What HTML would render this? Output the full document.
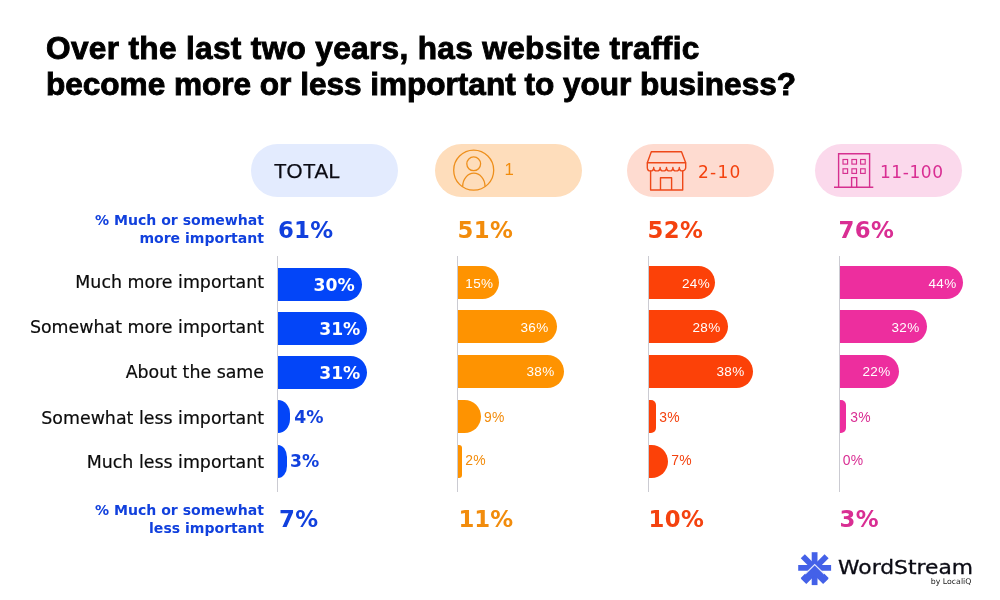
<!DOCTYPE html>
<html lang="en">
<head>
<meta charset="utf-8">
<title>Website traffic importance</title>
<style>
*{margin:0;padding:0;box-sizing:border-box}
html,body{width:1000px;height:600px;background:#fff;overflow:hidden}
body{position:relative;font-family:"DejaVu Sans","Liberation Sans",sans-serif;color:#0b0b0b}
.abs{position:absolute;white-space:nowrap;line-height:1}
.title{left:46px;font-family:"Liberation Sans",sans-serif;font-weight:bold;font-size:31.6px;color:#000;-webkit-text-stroke:0.9px #000;letter-spacing:0}
.pill{position:absolute;top:144px;height:53px;width:147px;border-radius:27px}
.lbl{right:736px;font-size:17.4px;-webkit-text-stroke:0.2px #0b0b0b;text-align:right;color:#0b0b0b}
.blbl{right:736px;font-size:14.05px;font-weight:bold;text-align:right;color:#1140dd;line-height:18px}
.big{font-weight:bold;font-size:22.8px;letter-spacing:0.35px}
.axis{position:absolute;top:256px;height:236px;width:1px;background:#cbcbd2}
.bar{position:absolute;height:33px;border-radius:0 16.5px 16.5px 0}
.v{font-family:"Liberation Sans",sans-serif;font-size:13.5px;letter-spacing:0.35px}
.vo{font-size:13.9px}
.vb{font-weight:bold;font-size:17.2px}
.c1{color:#1140dd}.c2{color:#f28c0c}.c3{color:#f4420f}.c4{color:#d92e93}
.b1{background:#0345f8}.b2{background:#fe9301}.b3{background:#fc4108}.b4{background:#ed2e9e}
.w{color:#fff}
</style>
</head>
<body>
<div class="abs title" style="top:33px;letter-spacing:0.33px">Over the last two years, has website traffic</div>
<div class="abs title" style="top:69px;letter-spacing:-0.03px">become more or less important to your business?</div>

<div class="pill" style="left:251px;background:#e3ebfe"></div>
<div class="pill" style="left:434.5px;background:#feddbb"></div>
<div class="pill" style="left:627px;background:#fedbd0"></div>
<div class="pill" style="left:814.5px;background:#fbd9ec"></div>
<div class="abs" style="left:274px;top:160.7px;font-family:'Liberation Sans',sans-serif;font-size:20.6px;letter-spacing:0.4px;color:#0b0b14;-webkit-text-stroke:0.25px #0b0b14">TOTAL</div>
<div class="abs c2" style="left:504.6px;top:162.3px;font-family:'Liberation Sans',sans-serif;font-size:16.8px">1</div>
<div class="abs c3" style="left:698px;top:163.5px;font-size:17px;letter-spacing:1.25px">2-10</div>
<div class="abs c4" style="left:880px;top:163.6px;font-size:17px;letter-spacing:0.55px">11-100</div>

<div class="abs blbl" style="top:210.7px">% Much or somewhat<br>more important</div>
<div class="abs blbl" style="top:501px">% Much or somewhat<br>less important</div>

<div class="abs lbl" style="top:274.4px">Much more important</div>
<div class="abs lbl" style="top:319.4px">Somewhat more important</div>
<div class="abs lbl" style="top:364.3px">About the same</div>
<div class="abs lbl" style="top:409.5px">Somewhat less important</div>
<div class="abs lbl" style="top:454.4px">Much less important</div>

<div class="abs big c1" style="left:277.9px;top:218.6px">61%</div>
<div class="abs big c2" style="left:457.5px;top:218.6px">51%</div>
<div class="abs big c3" style="left:647.5px;top:218.6px">52%</div>
<div class="abs big c4" style="left:838.5px;top:218.6px">76%</div>

<div class="abs big c1" style="left:279px;top:508px">7%</div>
<div class="abs big c2" style="left:458.5px;top:508px;letter-spacing:0">11%</div>
<div class="abs big c3" style="left:648.5px;top:508px">10%</div>
<div class="abs big c4" style="left:839.5px;top:508px">3%</div>

<div class="axis" style="left:277px"></div>
<div class="axis" style="left:457px"></div>
<div class="axis" style="left:648px"></div>
<div class="axis" style="left:839px"></div>

<!-- blue -->
<div class="bar b1" style="left:278px;top:267.5px;width:84px"></div>
<div class="bar b1" style="left:278px;top:311.7px;width:89.2px"></div>
<div class="bar b1" style="left:278px;top:356px;width:89.2px"></div>
<div class="bar b1" style="left:278px;top:400.4px;width:12.3px;border-radius:0 12px 12px 0/0 14px 14px 0"></div>
<div class="bar b1" style="left:278px;top:444.6px;width:9px;border-radius:0 9px 9px 0/0 12px 12px 0"></div>
<div class="abs vb w" style="left:313.6px;top:276.6px">30%</div>
<div class="abs vb w" style="left:319.2px;top:321px">31%</div>
<div class="abs vb w" style="left:319.2px;top:365.3px">31%</div>
<div class="abs vb c1" style="left:294.2px;top:409.3px">4%</div>
<div class="abs vb c1" style="left:290px;top:453.3px">3%</div>

<!-- orange -->
<div class="bar b2" style="left:458px;top:266.2px;width:40.7px"></div>
<div class="bar b2" style="left:458px;top:310.2px;width:98.7px"></div>
<div class="bar b2" style="left:458px;top:354.7px;width:106px"></div>
<div class="bar b2" style="left:458px;top:399.5px;width:22.8px"></div>
<div class="bar b2" style="left:458px;top:444.5px;width:4px;border-radius:0 3px 3px 0"></div>
<div class="abs v w" style="left:465.3px;top:276.5px">15%</div>
<div class="abs v w" style="left:520.5px;top:321px">36%</div>
<div class="abs v w" style="left:526.5px;top:365px">38%</div>
<div class="abs v vo c2" style="left:484px;top:410.7px">9%</div>
<div class="abs v vo c2" style="left:465.3px;top:454.3px">2%</div>

<!-- red -->
<div class="bar b3" style="left:649px;top:266.2px;width:66.3px"></div>
<div class="bar b3" style="left:649px;top:310.2px;width:78.8px"></div>
<div class="bar b3" style="left:649px;top:354.7px;width:103.7px"></div>
<div class="bar b3" style="left:649px;top:399.5px;width:7px;border-radius:0 5px 5px 0"></div>
<div class="bar b3" style="left:649px;top:444.5px;width:19px"></div>
<div class="abs v w" style="left:682px;top:276.5px">24%</div>
<div class="abs v w" style="left:692.5px;top:321px">28%</div>
<div class="abs v w" style="left:716.5px;top:365px">38%</div>
<div class="abs v vo c3" style="left:659.3px;top:410.7px">3%</div>
<div class="abs v vo c3" style="left:671.3px;top:454.3px">7%</div>

<!-- pink -->
<div class="bar b4" style="left:840px;top:266.2px;width:123px"></div>
<div class="bar b4" style="left:840px;top:310.2px;width:86.7px"></div>
<div class="bar b4" style="left:840px;top:354.7px;width:59.2px"></div>
<div class="bar b4" style="left:840px;top:399.5px;width:6.2px;border-radius:0 5px 5px 0"></div>
<div class="abs v w" style="left:928.5px;top:276.5px">44%</div>
<div class="abs v w" style="left:891.5px;top:321px">32%</div>
<div class="abs v w" style="left:862.5px;top:365px">22%</div>
<div class="abs v vo c4" style="left:850.3px;top:410.7px">3%</div>
<div class="abs v vo c4" style="left:842.7px;top:454.3px">0%</div>


<!-- icons -->
<svg class="abs" style="left:450px;top:146px" width="48" height="48" viewBox="450 146 48 48" fill="none" stroke="#ee8f1c" stroke-width="1.3">
<circle cx="473.7" cy="170.2" r="20"/>
<circle cx="473.7" cy="163.8" r="6.9"/>
<path d="M462.7 186.4 A11.15 13.2 0 0 1 485 186.4"/>
</svg>
<svg class="abs" style="left:644px;top:148px" width="46" height="46" viewBox="644 148 46 46" fill="none" stroke="#ee4818" stroke-width="1.4" stroke-linejoin="round">
<path d="M651.3 151.7 H681.5 L685.7 162.7 H647.3 Z"/>
<path d="M647.3 162.7 V167.4 a3.2 3.5 0 0 0 6.4 0 a3.2 3.5 0 0 0 6.4 0 a3.2 3.5 0 0 0 6.4 0 a3.2 3.5 0 0 0 6.4 0 a3.2 3.5 0 0 0 6.4 0 a3.2 3.5 0 0 0 6.4 0 V162.7"/>
<path d="M650.6 170.6 V190 H682.7 V170.6"/>
<path d="M660.5 190 V177.8 H671.6 V190"/>
</svg>
<svg class="abs" style="left:830px;top:150px" width="48" height="42" viewBox="830 150 48 42" fill="none" stroke="#d6308f" stroke-width="1.4">
<path d="M838.6 187.3 V153.7 H869.6 V187.3"/>
<path d="M834 187.3 H873.3"/>
<g stroke-width="1.15"><rect x="843" y="159.5" width="4.6" height="4.6"/><rect x="851.9" y="159.5" width="4.6" height="4.6"/><rect x="860.6" y="159.5" width="4.6" height="4.6"/>
<rect x="843" y="168.8" width="4.6" height="4.6"/><rect x="851.9" y="168.8" width="4.6" height="4.6"/><rect x="860.6" y="168.8" width="4.6" height="4.6"/></g>
<path d="M851.6 187.3 V177.6 H856.7 V187.3"/>
</svg>
<svg class="abs" style="left:794px;top:548px" width="42" height="42" viewBox="794 548 42 42" fill="none" stroke="#4461e8" stroke-width="5.8">
<path d="M798.2 567.9 H831.1"/><path d="M814.6 552.2 V585.1"/>
<path d="M802.8 556.2 L826.6 580"/><path d="M826.6 556.2 L802.8 580"/>
<path d="M803.6 581.4 L814.7 570.3 L825.8 581.4" stroke-width="7.6"/>
<path d="M805.2 574 L814.7 564.5 L824.2 574" stroke="#ffffff" stroke-width="1.1" stroke-opacity="0.85"/>
</svg>
<!-- logo -->
<div class="abs" style="left:838.3px;top:557.8px;font-size:19.4px;transform:scaleX(1.125);transform-origin:0 0;color:#0b0b14;-webkit-text-stroke:0.3px #0b0b14">WordStream</div>
<div class="abs" style="left:930.8px;top:578.2px;font-size:7.8px;color:#222">by LocaliQ</div>
</body>
</html>
